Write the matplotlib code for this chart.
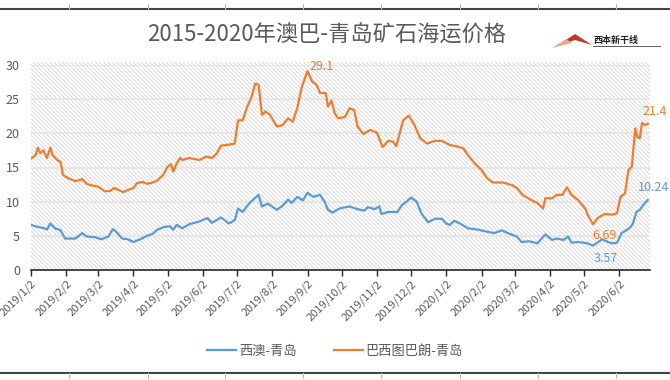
import matplotlib
matplotlib.use("Agg")
import matplotlib.pyplot as plt
from matplotlib.patches import Rectangle, Polygon
from matplotlib.lines import Line2D
import pandas as pd

plt.rcParams['font.family'] = ['Noto Sans CJK SC', 'DejaVu Sans']
plt.rcParams['hatch.linewidth'] = 0.6

# DATA
title = "2015-2020年澳巴-青岛矿石海运价格"
series_names = ["西澳-青岛", "巴西图巴朗-青岛"]

orange_dates = [
    "2019-01-02", "2019-01-06", "2019-01-08", "2019-01-10", "2019-01-13", "2019-01-16",
    "2019-01-19", "2019-01-21", "2019-01-25", "2019-01-28", "2019-01-30", "2019-02-04",
    "2019-02-10", "2019-02-16", "2019-02-20", "2019-02-24", "2019-03-02", "2019-03-08",
    "2019-03-13", "2019-03-16", "2019-03-20", "2019-03-24", "2019-03-28", "2019-04-02",
    "2019-04-05", "2019-04-10", "2019-04-14", "2019-04-19", "2019-04-23", "2019-04-28",
    "2019-05-02", "2019-05-05", "2019-05-07", "2019-05-10", "2019-05-13", "2019-05-15",
    "2019-05-21", "2019-05-30", "2019-06-05", "2019-06-10", "2019-06-14", "2019-06-18",
    "2019-06-23", "2019-06-30", "2019-07-03", "2019-07-07", "2019-07-11", "2019-07-15",
    "2019-07-18", "2019-07-21", "2019-07-24", "2019-07-27", "2019-07-31", "2019-08-06",
    "2019-08-11", "2019-08-16", "2019-08-20", "2019-08-24", "2019-08-28", "2019-09-02",
    "2019-09-06", "2019-09-10", "2019-09-13", "2019-09-18", "2019-09-20", "2019-09-23",
    "2019-09-26", "2019-09-29", "2019-10-05", "2019-10-09", "2019-10-13", "2019-10-16",
    "2019-10-21", "2019-10-27", "2019-11-02", "2019-11-07", "2019-11-12", "2019-11-16",
    "2019-11-19", "2019-11-25", "2019-11-30", "2019-12-05", "2019-12-10", "2019-12-16",
    "2019-12-23", "2019-12-29", "2020-01-05", "2020-01-11", "2020-01-17", "2020-01-21",
    "2020-01-27", "2020-02-02", "2020-02-07", "2020-02-12", "2020-02-21", "2020-02-29",
    "2020-03-04", "2020-03-09", "2020-03-17", "2020-03-22", "2020-03-27", "2020-03-29",
    "2020-04-04", "2020-04-08", "2020-04-13", "2020-04-17", "2020-04-21", "2020-04-27",
    "2020-05-03", "2020-05-06", "2020-05-10", "2020-05-14", "2020-05-20", "2020-05-27",
    "2020-05-31", "2020-06-03", "2020-06-07", "2020-06-10", "2020-06-13", "2020-06-16",
    "2020-06-18", "2020-06-20", "2020-06-22", "2020-06-25", "2020-06-27",
]
orange_vals = [
    16.3, 16.8, 17.9, 17.1, 17.5, 16.4,
    17.9, 16.8, 16.1, 15.8, 13.9, 13.4,
    13.0, 13.3, 12.6, 12.4, 12.2, 11.5,
    11.6, 12.0, 11.7, 11.4, 11.7, 12.0,
    12.7, 12.9, 12.6, 12.8, 13.1, 13.9,
    15.1, 15.5, 14.4, 15.6, 16.4, 16.1,
    16.4, 16.1, 16.6, 16.4, 17.0, 18.2,
    18.3, 18.5, 21.9, 21.9, 23.9, 25.4,
    27.3, 27.1, 22.7, 23.2, 22.7, 21.0,
    21.2, 22.2, 21.7, 23.7, 26.8, 29.1,
    27.6, 27.1, 25.9, 25.9, 23.9, 24.8,
    22.9, 22.2, 22.4, 23.7, 23.4, 21.0,
    19.9, 20.5, 20.1, 18.0, 18.9, 18.8,
    18.1, 21.9, 22.6, 21.2, 19.3, 18.5,
    18.9, 18.9, 18.3, 18.1, 17.8, 16.8,
    15.6, 14.6, 13.4, 12.8, 12.8, 12.4,
    12.0, 11.0, 10.2, 9.8, 9.0, 10.5,
    10.5, 11.0, 11.0, 12.1, 11.0, 10.2,
    9.0, 7.8, 6.69, 7.6, 8.2, 8.1,
    8.3, 10.7, 11.2, 14.6, 15.1, 20.7,
    19.4, 19.3, 21.5, 21.2, 21.4,
]

blue_dates = [
    "2019-01-02", "2019-01-08", "2019-01-14", "2019-01-16", "2019-01-19", "2019-01-23",
    "2019-01-28", "2019-02-01", "2019-02-10", "2019-02-16", "2019-02-20", "2019-02-27",
    "2019-03-05", "2019-03-11", "2019-03-15", "2019-03-19", "2019-03-23", "2019-03-28",
    "2019-04-02", "2019-04-08", "2019-04-14", "2019-04-19", "2019-04-23", "2019-04-29",
    "2019-05-04", "2019-05-07", "2019-05-10", "2019-05-15", "2019-05-21", "2019-05-30",
    "2019-06-06", "2019-06-10", "2019-06-18", "2019-06-21", "2019-06-25", "2019-06-30",
    "2019-07-03", "2019-07-07", "2019-07-13", "2019-07-19", "2019-07-21", "2019-07-24",
    "2019-07-29", "2019-08-01", "2019-08-06", "2019-08-11", "2019-08-16", "2019-08-19",
    "2019-08-24", "2019-08-29", "2019-09-02", "2019-09-07", "2019-09-13", "2019-09-17",
    "2019-09-20", "2019-09-24", "2019-09-30", "2019-10-09", "2019-10-16", "2019-10-22",
    "2019-10-25", "2019-10-31", "2019-11-04", "2019-11-06", "2019-11-12", "2019-11-20",
    "2019-11-24", "2019-11-28", "2019-12-02", "2019-12-07", "2019-12-11", "2019-12-17",
    "2019-12-23", "2019-12-29", "2020-01-02", "2020-01-05", "2020-01-09", "2020-01-14",
    "2020-01-21", "2020-01-30", "2020-02-07", "2020-02-13", "2020-02-20", "2020-02-25",
    "2020-03-04", "2020-03-08", "2020-03-15", "2020-03-22", "2020-03-29", "2020-04-04",
    "2020-04-08", "2020-04-14", "2020-04-18", "2020-04-21", "2020-04-27", "2020-05-05",
    "2020-05-10", "2020-05-18", "2020-05-23", "2020-05-27", "2020-05-31", "2020-06-04",
    "2020-06-09", "2020-06-12", "2020-06-14", "2020-06-17", "2020-06-20", "2020-06-23",
    "2020-06-27",
]
blue_vals = [
    6.6, 6.3, 6.1, 5.9, 6.8, 6.1,
    5.8, 4.6, 4.6, 5.4, 4.9, 4.8,
    4.5, 4.9, 6.0, 5.4, 4.6, 4.5,
    4.1, 4.5, 5.0, 5.3, 5.9, 6.3,
    6.4, 5.9, 6.6, 6.1, 6.7, 7.1,
    7.6, 6.9, 7.7, 7.3, 6.8, 7.3,
    9.0, 8.5, 9.8, 10.7, 11.0, 9.3,
    9.7, 9.4, 8.8, 9.4, 10.3, 9.8,
    10.7, 10.2, 11.3, 10.7, 11.0, 10.0,
    8.8, 8.4, 9.0, 9.3, 8.9, 8.7,
    9.2, 8.9, 9.3, 8.2, 8.5, 8.5,
    9.5, 10.0, 10.6, 10.0, 8.3, 7.0,
    7.5, 7.5, 6.8, 6.6, 7.2, 6.8,
    6.1, 5.9, 5.6, 5.4, 5.8, 5.4,
    4.9, 4.1, 4.2, 3.9, 5.2, 4.4,
    4.6, 4.4, 4.9, 4.0, 4.1, 3.9,
    3.57, 4.5, 4.1, 3.9, 4.0, 5.4,
    5.9, 6.3, 6.8, 8.5, 8.8, 9.5,
    10.24,
]

tick_dates = pd.date_range("2019-01-02", "2020-06-02", freq=pd.DateOffset(months=1))
tick_labels = [f"{d.year}/{d.month}/{d.day}" for d in tick_dates]

BLUE = "#5b9bd5"
ORANGE = "#ed7d31"
GRAY = "#595959"

fig = plt.figure(figsize=(6.7, 3.8), dpi=100)
ax = fig.add_axes([31 / 670, 1 - 270 / 380, 619 / 670, 205 / 380])

od = pd.to_datetime(orange_dates)
bd = pd.to_datetime(blue_dates)

# hatched background
bg = Rectangle((0, 0), 1, 1.015, transform=ax.transAxes, facecolor="white",
               edgecolor="#d6d6d6", hatch="\\" * 8, linewidth=0, zorder=0, clip_on=False)
ax.add_patch(bg)
ax.patch.set_visible(False)

for y in range(5, 31, 5):
    ax.axhline(y, color="#e6e6e6", linewidth=1.5, zorder=1)

l1, = ax.plot(bd, blue_vals, color=BLUE, linewidth=1.6, zorder=3)
l2, = ax.plot(od, orange_vals, color=ORANGE, linewidth=1.6, zorder=3)

ax.set_xlim(pd.Timestamp("2019-01-02"), pd.Timestamp("2020-06-29"))
ax.set_ylim(0, 30)
ax.set_yticks(range(0, 31, 5))
ax.tick_params(axis="y", length=0, labelsize=9, colors=GRAY, pad=8)
ax.set_xticks(tick_dates)
ax.set_xticklabels(tick_labels, rotation=45, ha="right", rotation_mode="anchor",
                   fontsize=8, color=GRAY)
ax.tick_params(axis="x", direction="out", length=4, width=1, color="#262626", pad=2)
for s in ["top", "right", "left"]:
    ax.spines[s].set_visible(False)
ax.spines["bottom"].set_color("#262626")
ax.spines["bottom"].set_linewidth(1.2)

# data labels
def label_at(dates, vals, v, color, dx, dy):
    i = vals.index(v)
    ax.annotate(f"{v:g}", (dates[i], v), xytext=(dx, dy), textcoords="offset points",
                color=color, fontsize=9, ha="center", va="center", zorder=4)

label_at(od, orange_vals, 29.1, ORANGE, 10, 3)
label_at(od, orange_vals, 6.69, ORANGE, 8, -8)
label_at(od, orange_vals, 21.4, ORANGE, 5, 9)
label_at(bd, blue_vals, 3.57, BLUE, 9, -9)
label_at(bd, blue_vals, 10.24, BLUE, 4, 9)

fig.text(327 / 670, 1 - 35 / 380, title, ha="center", va="center", fontsize=16, color=GRAY)

# logo
fig.patches.append(Polygon([[555 / 670, 1 - 47 / 380], [575 / 670, 1 - 34 / 380],
                            [592 / 670, 1 - 45 / 380], [575 / 670, 1 - 40 / 380]],
                           closed=True, transform=fig.transFigure, facecolor="#c0392b",
                           edgecolor="none"))
fig.patches.append(Polygon([[552 / 670, 1 - 48 / 380], [566 / 670, 1 - 39 / 380],
                            [572 / 670, 1 - 43 / 380]],
                           closed=True, transform=fig.transFigure, facecolor="#d9b38c",
                           edgecolor="none"))
fig.text(593 / 670, 1 - 40 / 380, "西本新干线", fontsize=6.5, fontweight="bold",
         color="#222222", ha="left", va="center")
fig.lines.append(Line2D([593 / 670, 660 / 670], [1 - 46 / 380, 1 - 46 / 380],
                        transform=fig.transFigure, color="#444444", linewidth=0.6))

# legend
fig.legend([l1, l2], series_names, loc="center", bbox_to_anchor=(335 / 670, 1 - 351 / 380),
           ncol=2, frameon=False, fontsize=9.5, handlelength=2.2, handletextpad=0.2,
           columnspacing=2.8, labelcolor=GRAY)

# frame lines of the page
for yy in [1 - 9 / 380, 1 - 373 / 380]:
    fig.lines.append(Line2D([0, 1], [yy, yy], transform=fig.transFigure,
                            color="#444444", linewidth=1.5))
for xx in [69, 148, 225, 303, 381, 460, 538, 616]:
    fig.lines.append(Line2D([xx / 670, xx / 670], [1 - 4 / 380, 1 - 9 / 380],
                            transform=fig.transFigure, color="#bbbbbb", linewidth=0.8))
    fig.lines.append(Line2D([xx / 670, xx / 670], [1 - 373 / 380, 1 - 378 / 380],
                            transform=fig.transFigure, color="#bbbbbb", linewidth=0.8))

fig.savefig("out.png", dpi=100)
